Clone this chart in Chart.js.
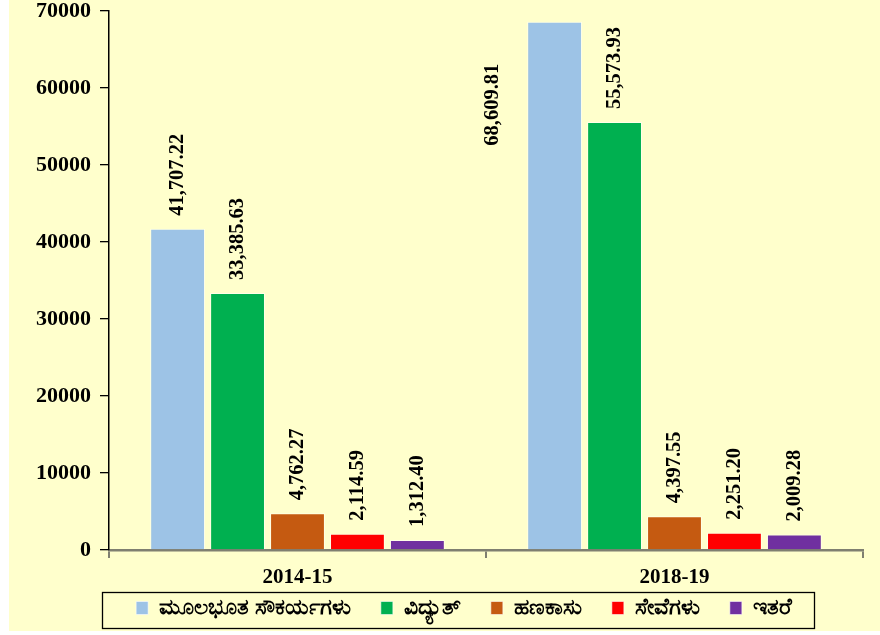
<!DOCTYPE html>
<html>
<head>
<meta charset="utf-8">
<script src="https://cdn.jsdelivr.net/npm/chart.js@4.4.1/dist/chart.umd.min.js"></script>
<style>
  html, body { margin: 0; padding: 0; background: #ffffff; }
  #wrap { position: absolute; left: 9px; top: 0; width: 871px; height: 631px; background: #FFFFCC; }
</style>
</head>
<body>
<div id="wrap"><canvas id="grafico" width="871" height="631"></canvas></div>
<script>
// Datos del gráfico
const anios = ['2014-15', '2018-19'];
const series = ['ಮೂಲಭೂತ ಸೌಕರ್ಯಗಳು', 'ವಿದ್ಯುತ್', 'ಹಣಕಾಸು', 'ಸೇವೆಗಳು', 'ಇತರೆ'];
const infraestructura = [41707.22, 68609.81];
const electricidad = [33385.63, 55573.93];
const finanzas = [4762.27, 4397.55];
const servicios = [2114.59, 2251.20];
const otros = [1312.40, 2009.28];
const colores = ['#9DC3E6', '#00B050', '#C55A11', '#FF0000', '#7030A0'];
const ejeY = [0, 10000, 20000, 30000, 40000, 50000, 60000, 70000];

const valores = [infraestructura, electricidad, finanzas, servicios, otros];
const serif = "'Liberation Serif', 'Times New Roman', serif";

// Etiquetas de valor giradas sobre cada barra
const etiquetasPlugin = {
    id: 'etiquetas',
    afterDatasetsDraw(chart) {
        const ctx = chart.ctx;
        ctx.save();
        ctx.font = 'bold 20.5px ' + serif;
        ctx.fillStyle = '#000';
        chart.data.datasets.forEach((ds, i) => {
            chart.getDatasetMeta(i).data.forEach((bar, j) => {
                const txt = ds.data[j].toLocaleString('en-US', { minimumFractionDigits: 2, maximumFractionDigits: 2 });
                const w = ctx.measureText(txt).width;
                ctx.save();
                if (bar.y - 13 - w < 0) {
                    // no cabe arriba: a la izquierda de la barra
                    ctx.translate(bar.x - bar.width / 2 - 34, bar.y + 83);
                    ctx.rotate(-Math.PI / 2);
                    ctx.textAlign = 'center';
                } else {
                    ctx.translate(bar.x, bar.y - 13);
                    ctx.rotate(-Math.PI / 2);
                    ctx.textAlign = 'left';
                }
                ctx.textBaseline = 'middle';
                ctx.fillText(txt, 0, 0);
                ctx.restore();
            });
        });
        ctx.restore();
    }
};

// Leyenda: altura fija, posición y marco
const leyendaPlugin = {
    id: 'leyendaMarco',
    afterInit(chart) {
        const lg = chart.legend;
        const fitOriginal = lg.fit.bind(lg);
        lg.fit = function () { fitOriginal(); this.height = 41; };
    },
    afterLayout(chart) {
        const lg = chart.legend;
        lg.left += 28; lg.right += 28;
        lg.top = 567; lg.height = 68; lg.bottom = lg.top + lg.height;
    },
    afterDraw(chart) {
        const lg = chart.legend;
        if (!lg || !lg.legendHitBoxes.length) return;
        const cajas = lg.legendHitBoxes;
        const izq = Math.min(...cajas.map(b => b.left)) - 34;
        const der = Math.max(...cajas.map(b => b.left + b.width)) + 22;
        const ctx = chart.ctx;
        ctx.save();
        ctx.strokeStyle = '#000';
        ctx.lineWidth = 1.3;
        ctx.strokeRect(Math.round(izq) + 0.5, 592.5, Math.round(der - izq), 36);
        ctx.restore();
    }
};

new Chart(document.getElementById('grafico'), {
    type: 'bar',
    data: {
        labels: anios,
        datasets: series.map((nombre, i) => ({
            label: nombre,
            data: valores[i],
            backgroundColor: colores[i],
            borderColor: 'rgba(255,255,255,0.55)',
            borderWidth: 1,
            categoryPercentage: 0.795,
            barPercentage: 0.915
        }))
    },
    options: {
        responsive: false,
        animation: false,
        layout: { padding: { top: 11, right: 17, left: 0, bottom: 0 } },
        plugins: {
            legend: {
                position: 'bottom',
                labels: {
                    boxWidth: 12,
                    boxHeight: 13,
                    padding: 30,
                    color: '#000',
                    font: { family: "'Noto Sans', sans-serif", size: 22, weight: 'bold' }
                }
            },
            tooltip: { enabled: false }
        },
        scales: {
            x: {
                grid: { offset: true, drawOnChartArea: false, tickLength: 8, color: '#7F7F70', lineWidth: 2 },
                border: { color: '#7F7F70', width: 2.5 },
                ticks: { color: '#000', padding: 7, font: { family: serif, size: 21, weight: 'bold' } },
                afterFit(scale) { scale.height = 40; }
            },
            y: {
                min: 0,
                max: 70000,
                afterBuildTicks(scale) { scale.ticks = ejeY.map(v => ({ value: v })); },
                grid: { drawOnChartArea: false, tickLength: 9, color: '#000', lineWidth: 1.3 },
                border: { color: '#000', width: 1.5 },
                ticks: {
                    color: '#000', padding: 9,
                    font: { family: serif, size: 22, weight: 'bold' },
                    callback: v => String(v)
                },
                afterFit(scale) {
                    scale.width = 100;
                    scale.paddingTop = 0;
                    scale.paddingBottom = 0;
                }
            }
        }
    },
    plugins: [etiquetasPlugin, leyendaPlugin]
});
</script>
</body>
</html>
